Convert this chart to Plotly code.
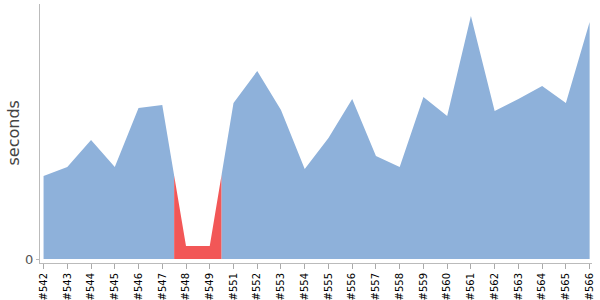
import plotly.graph_objects as go

builds = ["#542", "#543", "#544", "#545", "#546", "#547", "#548", "#549", "#551", "#552",
          "#553", "#554", "#555", "#556", "#557", "#558", "#559", "#560", "#561", "#562",
          "#563", "#564", "#565", "#566"]
durations = [83, 92, 119, 92, 151, 154, 13, 13, 156, 188,
             149, 90, 121, 160, 103, 92, 162, 143, 243, 148,
             160, 173, 156, 237]
failed = [False, False, False, False, False, False, True, True, False, False,
          False, False, False, False, False, False, False, False, False, False,
          False, False, False, False]

BLUE = "#8eb1da"
RED = "#f25757"

n = len(builds)
xs = list(range(n))

# group consecutive builds with the same status; each build owns the span i-0.5..i+0.5
runs = []
start = 0
for i in range(1, n + 1):
    if i == n or failed[i] != failed[start]:
        runs.append((start, i - 1, failed[start]))
        start = i

fig = go.Figure()
for a, b, bad in runs:
    px, py = [], []
    if a > 0:
        px.append(a - 0.5)
        py.append((durations[a - 1] + durations[a]) / 2)
    for i in range(a, b + 1):
        px.append(i)
        py.append(durations[i])
    if b < n - 1:
        px.append(b + 0.5)
        py.append((durations[b] + durations[b + 1]) / 2)
    col = RED if bad else BLUE
    fig.add_trace(go.Scatter(x=px, y=py, mode="lines", fill="tozeroy",
                             line=dict(width=0, color=col), fillcolor=col,
                             hoverinfo="skip", showlegend=False))

fig.update_layout(
    width=600, height=300,
    margin=dict(l=40, r=8, t=4, b=37),
    plot_bgcolor="white", paper_bgcolor="white",
    font=dict(family="DejaVu Sans", color="#333"),
    xaxis=dict(
        automargin=False,
        range=[-0.15, n - 1 + 0.1],
        tickmode="array", tickvals=xs, ticktext=builds,
        tickangle=-90, tickfont=dict(size=10, color="#000"),
        ticks="outside", ticklen=5, tickcolor="#aaa",
        showline=True, linecolor="#bbb", linewidth=1,
        showgrid=False, zeroline=False, fixedrange=True,
    ),
    yaxis=dict(
        automargin=False,
        range=[-4, 255],
        tickmode="array", tickvals=[0], ticktext=["0"],
        tickfont=dict(size=13, color="#555"),
        ticks="outside", ticklen=3, tickcolor="#bbb",
        showline=True, linecolor="#bbb", linewidth=1,
        showgrid=False, zeroline=False,
    ),
    annotations=[dict(
        text="seconds", textangle=-90, showarrow=False,
        xref="paper", yref="paper", x=0, y=0.5, xanchor="center", yanchor="middle",
        xshift=-27, font=dict(size=16, color="#444"),
    )],
)

fig.write_html("out.html")
